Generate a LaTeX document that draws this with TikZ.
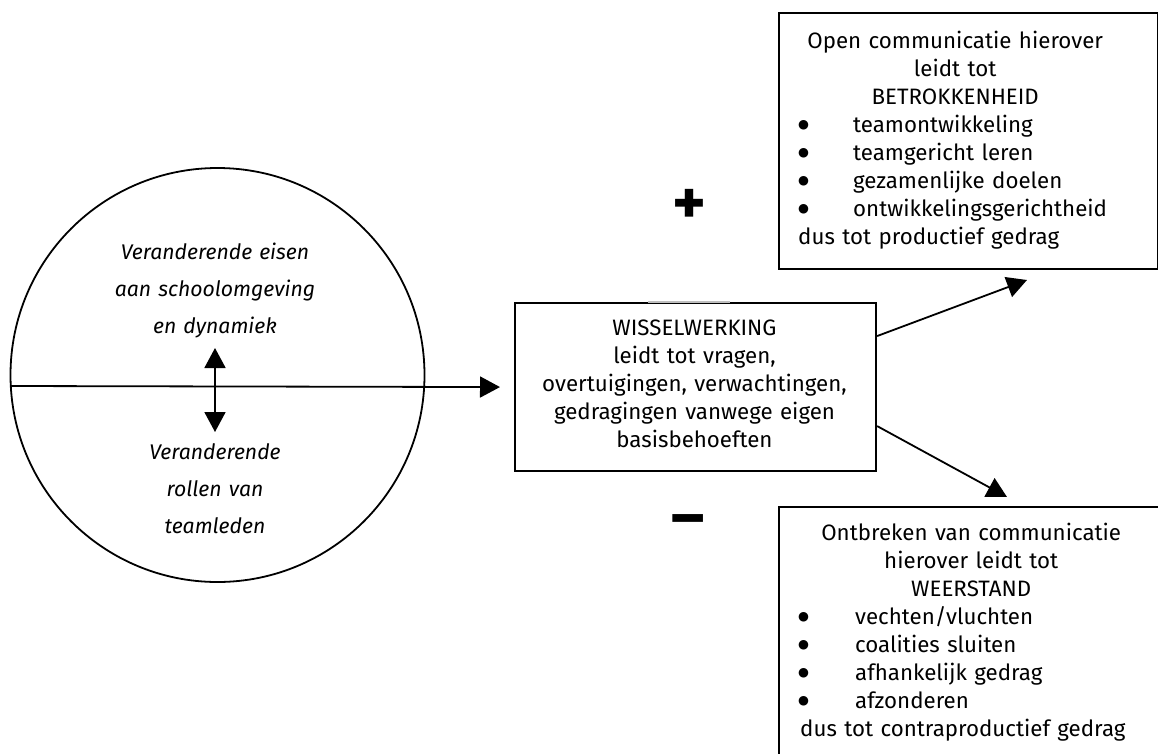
\documentclass[tikz,border=0pt]{standalone}
\usepackage{fontspec}
\setmainfont{Fira Sans}
\newfontfamily\bulfont{DejaVu Sans}
\usetikzlibrary{arrows.meta}
\newcommand\bulitem[2]{\makebox[0pt][l]{\hspace*{#1}{\bulfont\fontsize{12.5}{12}\selectfont\raisebox{4pt}{●}}}\hspace*{55pt}#2\par}
\begin{document}
\begin{tikzpicture}[x=1pt,y=-1pt,
  tipA/.style={-{Triangle[length=20pt,width=21pt]}},
  tipAB/.style={{Triangle[length=20pt,width=21pt]}-{Triangle[length=20pt,width=21pt]}},
  ln/.style={line width=1.8pt},
  box/.style={draw, line width=2.1pt, inner sep=0pt, anchor=north west},
  txt/.style={font=\fontsize{22.3}{28}\selectfont, inner sep=0pt},
  itx/.style={font=\fontsize{21.2}{37}\selectfont\itshape, inner sep=0pt, anchor=north, text width=320pt, align=center},
  sign/.style={font=\fontsize{64}{64}\selectfont\bfseries, inner sep=0pt}
]
\useasboundingbox (0,0) rectangle (1158,753);

% circle
\node[draw, circle, minimum size=414pt, inner sep=0pt, line width=1.8pt] (circ) at (217.5,375) {};
\node[itx] (uptxt) at (215,239) {\rule{0pt}{20pt}Veranderende eisen\\aan schoolomgeving\\en dynamiek};
\node[itx] (lowtxt) at (215,439) {\rule{0pt}{20pt}Veranderende\\rollen van\\teamleden};

% middle box
\node[box, minimum width=361pt, minimum height=168pt] (mid) at (514,302) {};
\draw[white, line width=2.6pt] (648,302) -- (730,302);
\draw[gray!50, line width=1.2pt] (648,302) -- (730,302);
\node[txt, anchor=north, text width=350pt, align=center] (midtxt) at (694.5,315)
  {\rule{0pt}{20pt}WISSELWERKING\\leidt tot vragen,\\overtuigingen, verwachtingen,\\gedragingen vanwege eigen\\basisbehoeften};

% top right box
\node[box, minimum width=379pt, minimum height=256pt] (topbox) at (778,12) {};
\node[txt, anchor=north west, text width=314pt, align=left] (toptxt) at (798,28)
  {\parindent=0pt{\centering\rule{0pt}{20pt}Open communicatie hierover\\leidt tot\\BETROKKENHEID\par}
   \bulitem{0pt}{teamontwikkeling}
   \bulitem{0pt}{teamgericht leren}
   \bulitem{0pt}{gezamenlijke doelen}
   \bulitem{0pt}{ontwikkelingsgerichtheid}
   dus tot productief gedrag};

% bottom right box
\node[box, minimum width=400pt, minimum height=280pt] (botbox) at (778,506) {};
\node[txt, anchor=north west, text width=342pt, align=left] (bottxt) at (800,520)
  {\parindent=0pt{\centering\rule{0pt}{20pt}Ontbreken van communicatie\\hierover leidt tot\\WEERSTAND\par}
   \bulitem{-2pt}{vechten/vluchten}
   \bulitem{-2pt}{coalities sluiten}
   \bulitem{-2pt}{afhankelijk gedrag}
   \bulitem{-2pt}{afzonderen}
   dus tot contraproductief gedrag};

% signs
\node[sign] (plus) at (689,207) {+};
\node[sign, anchor=base] (minus) at (688,538) {–};

% connectors
\coordinate (lstart) at (11,386);
\draw[ln, tipA] (lstart) -- ([xshift=-14pt]mid.west);
\coordinate (dtop) at (215,348);
\coordinate (dbot) at (215,432);
\draw[ln, tipAB] (dtop) -- (dbot);
\coordinate (upend) at (1027,280);
\coordinate (lowend) at (1007,497);
\draw[ln, tipA] ([yshift=51pt]mid.east) -- (upend);
\draw[ln, tipA] ([yshift=-39pt]mid.east) -- (lowend);
\end{tikzpicture}
\end{document}
